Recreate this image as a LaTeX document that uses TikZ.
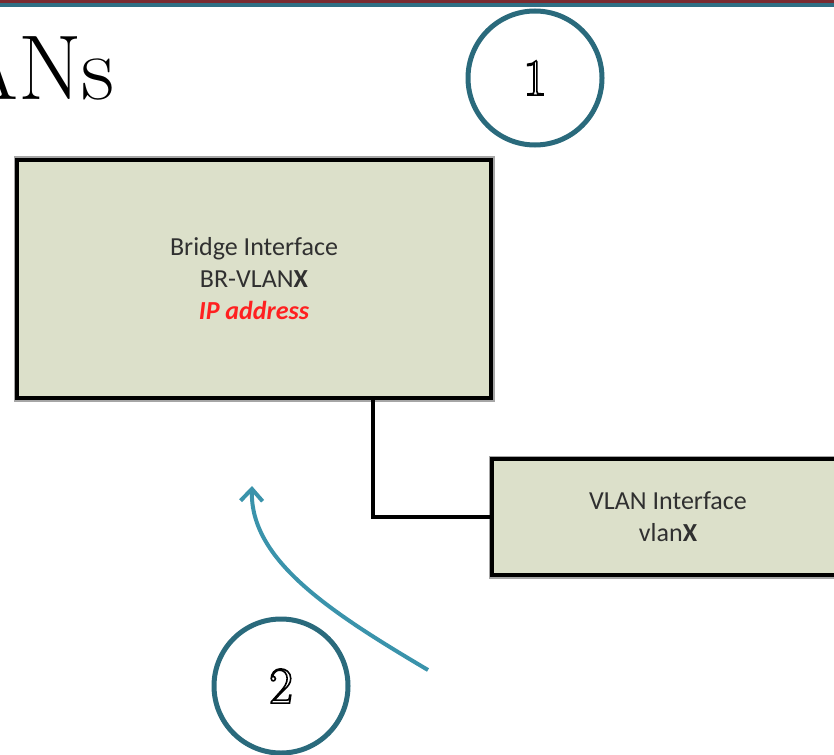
\documentclass[tikz,border=0pt]{standalone}
\usepackage{fontspec}
\usetikzlibrary{arrows.meta}
\newfontfamily\carl{Carlito}
\newcommand{\outlinedigit}[1]{\special{pdf:literal direct 1 Tr 1.6 w}#1\special{pdf:literal direct 0 Tr}}
\definecolor{boxfill}{HTML}{DCE0CA}
\definecolor{ringcol}{HTML}{2A6A7C}
\definecolor{arrowcol}{HTML}{3A93AB}
\definecolor{topred}{HTML}{7A2A30}
\definecolor{topteal}{HTML}{2F6F84}
\definecolor{iptext}{HTML}{FF2020}
\definecolor{boxtext}{HTML}{303030}
\tikzset{
  ifbox/.style={draw=black, line width=4pt, fill=boxfill, inner sep=0pt, align=center,
    font=\carl\fontsize{26}{32}\selectfont, text=boxtext},
  boxshade/.style={draw=black!35, line width=7pt},
  ring/.style={circle, draw=ringcol, line width=5pt, minimum size=134pt, inner sep=0pt,
    font=\fontsize{52}{52}\selectfont},
  conn/.style={line width=4pt, line cap=rect},
  bluearrow/.style={draw=arrowcol, line width=4pt, -{Straight Barb[length=12pt,width=22pt,line width=4pt]}},
}
\begin{document}
\begin{tikzpicture}[x=1pt,y=-1pt]
\useasboundingbox (0,0) rectangle (834,754);
\begin{scope}
\clip (0,0) rectangle (834,754);
% top bands
\fill[topred] (0,0) rectangle (834,3.4);
\fill[topteal] (0,3.4) rectangle (834,7);
% title fragment
\node[anchor=base east, inner sep=0pt, font=\fontsize{92}{92}\selectfont] (title) at (115,100) {VLANs};
% box shades
\draw[boxshade] (17,160) rectangle (491,398);
\draw[boxshade] (492,459) rectangle (844,575);
% boxes
\node[ifbox, minimum width=474pt, minimum height=238pt] (box1) at (254,279)
  {Bridge Interface\\BR-VLAN\textbf{X}\\\textcolor{iptext}{\textbf{\textit{IP address}}}};
\node[ifbox, minimum width=352pt, minimum height=116pt] (box2) at (668,517)
  {VLAN Interface\\vlan\textbf{X}};
% connector
\coordinate (bend) at (373,517);
\draw[conn] (box1.south -| bend) -- (bend) -- (box2.west);
% rings
\node[ring] (one) at (535,78) {\outlinedigit{1}};
\node[ring] (two) at (281,686) {\outlinedigit{2}};
% arrow
\coordinate (astart) at (428,670);
\coordinate (aend) at (252,486);
\draw[bluearrow] (astart) .. controls (330,612) and (250,560) .. (aend);
\end{scope}
\end{tikzpicture}
\end{document}
